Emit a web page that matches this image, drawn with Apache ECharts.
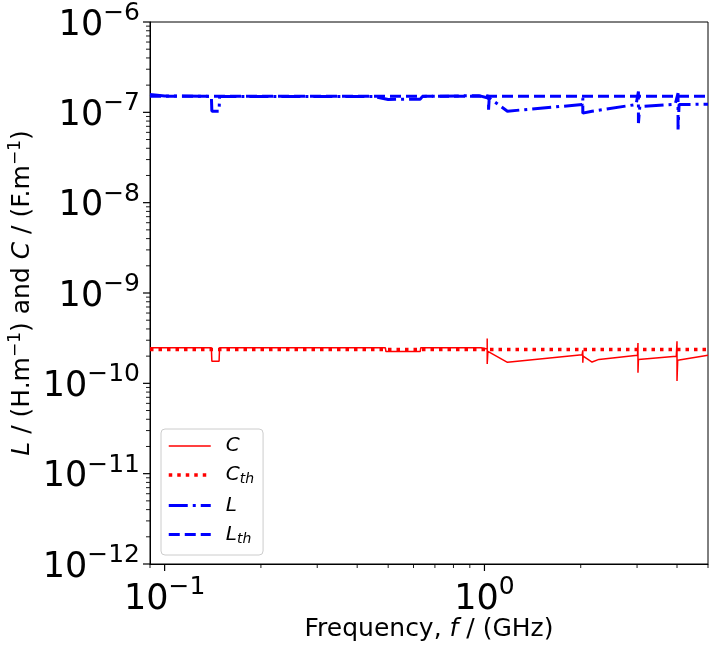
<!DOCTYPE html>
<html>
<head>
<meta charset="utf-8">
<script src="https://cdn.jsdelivr.net/npm/echarts@6/dist/echarts.min.js"></script>
<style>
  html, body { margin: 0; padding: 0; background: #fff; }
  #main { width: 715px; height: 652px; }
</style>
</head>
<body>
<div id="main"></div>
<script>
// 频率范围 (GHz)
var xMin = 0.09, xMax = 5;
var yMin = 1e-12, yMax = 1e-6;

// 刻度 (对数坐标的十进位)
var xDecades = [-2, -1, 0];
var yDecades = [-12, -11, -10, -9, -8, -7, -6];

// C : 电容 (F/m)  [频率, 值]
var cData = [
    [0.09, 2.47e-10], [0.14, 2.47e-10], [0.1405, 1.76e-10], [0.148, 1.76e-10],
    [0.1485, 2.47e-10], [0.49, 2.47e-10], [0.492, 2.25e-10], [0.63, 2.25e-10],
    [0.632, 2.47e-10], [0.975, 2.47e-10], [0.98, 2.4e-10], [1.02, 2.4e-10],
    [1.02, 3.13e-10], [1.02, 1.64e-10], [1.025, 2.26e-10], [1.18, 1.71e-10],
    [2.02, 2.07e-10], [2.03, 2.32e-10], [2.03, 1.69e-10], [2.035, 2.0e-10],
    [2.17, 1.72e-10], [2.28, 1.84e-10], [3.01, 2.05e-10], [3.02, 2.8e-10],
    [3.02, 1.31e-10], [3.03, 1.84e-10], [3.98, 2.0e-10], [4.0, 2.92e-10],
    [4.0, 1.06e-10], [4.02, 1.8e-10], [5.0, 2.05e-10]
];

// C_th : 理论电容
var cThData = [[0.09, 2.37e-10], [5.0, 2.37e-10]];

// L : 电感 (H/m)
var lData = [
    [0.09, 1.58e-7], [0.1, 1.52e-7], [0.14, 1.5e-7], [0.1405, 1.03e-7],
    [0.148, 1.03e-7], [0.1485, 1.5e-7], [0.45, 1.5e-7], [0.5, 1.39e-7],
    [0.63, 1.4e-7], [0.64, 1.5e-7], [0.96, 1.53e-7], [1.02, 1.45e-7],
    [1.03, 1.63e-7], [1.03, 1.07e-7], [1.035, 1.44e-7], [1.18, 1.03e-7],
    [2.02, 1.22e-7], [2.03, 1.44e-7], [2.03, 0.98e-7], [2.17, 1.03e-7],
    [2.98, 1.22e-7], [3.03, 1.7e-7], [3.03, 7.6e-8], [3.06, 1.16e-7],
    [3.95, 1.23e-7], [4.03, 1.63e-7], [4.03, 6.45e-8], [4.06, 1.22e-7],
    [5.0, 1.23e-7]
];

// L_th : 理论电感
var lThData = [[0.09, 1.51e-7], [5.0, 1.51e-7]];

var FONT = 'DejaVu Sans';
var legendNames = { 'C': '{i|C}', 'Cth': '{i|C}{sub|th}', 'L': '{i|L}', 'Lth': '{i|L}{sub|th}' };

function expLabel(v) {
    var e = Math.round(Math.log10(v));
    if (Math.abs(Math.log10(v) - e) > 1e-6) return '';
    return '{b|10}{s|' + (e < 0 ? '\u2212' + (-e) : e) + '}';
}

var labelRich = {
    b: { fontSize: 35, fontFamily: FONT, color: '#000', lineHeight: 42, verticalAlign: 'bottom' },
    s: { fontSize: 25, fontFamily: FONT, color: '#000', lineHeight: 25, verticalAlign: 'top' }
};

var myChart = echarts.init(document.getElementById('main'));

var option = {
    animation: false,
    grid: { left: 150, right: 7, top: 22, bottom: 88, outerBoundsMode: 'none',
            show: true, borderColor: '#000', borderWidth: 1 },
    xAxis: {
        type: 'log', logBase: 10, min: xMin, max: xMax,
        name: 'Frequency, {i|f} / (GHz)',
        nameLocation: 'middle', nameGap: 53, nameMoveOverlap: false,
        nameTextStyle: { fontSize: 25, fontFamily: FONT, color: '#000',
            rich: { i: { fontSize: 25, fontFamily: FONT, fontStyle: 'italic', color: '#000' } } },
        axisLine: { lineStyle: { color: '#000', width: 1 } },
        axisTick: { show: false },
        splitLine: { show: false },
        axisLabel: { margin: 11, formatter: expLabel, rich: labelRich }
    },
    yAxis: {
        type: 'log', logBase: 10, min: yMin, max: yMax,
        name: '{i|L} / (H.m{s|\u22121}) and {i|C} / (F.m{s|\u22121})',
        nameLocation: 'middle', nameGap: 113, nameRotate: 90, nameMoveOverlap: false,
        nameTextStyle: { fontSize: 25, fontFamily: FONT, color: '#000', lineHeight: 30,
            rich: {
                i: { fontSize: 25, fontFamily: FONT, fontStyle: 'italic', color: '#000', lineHeight: 30 },
                s: { fontSize: 17, fontFamily: FONT, color: '#000', lineHeight: 17, verticalAlign: 'top' }
            } },
        axisLine: { lineStyle: { color: '#000', width: 1 } },
        axisTick: { show: false },
        splitLine: { show: false },
        axisLabel: { margin: 10, formatter: expLabel, rich: labelRich }
    },
    legend: {
        orient: 'vertical', left: 161, top: 429,
        padding: [7, 9, 9, 6],
        itemWidth: 42, itemHeight: 14, itemGap: 9,
        backgroundColor: 'rgba(255,255,255,0.8)',
        borderColor: '#cccccc', borderWidth: 1, borderRadius: 4,
        itemStyle: { opacity: 0 },
        formatter: function (name) { return legendNames[name]; },
        textStyle: {
            padding: [0, 0, 0, 10],
            rich: {
                i: { fontSize: 20, fontFamily: FONT, fontStyle: 'italic', color: '#000', lineHeight: 23 },
                sub: { fontSize: 14, fontFamily: FONT, fontStyle: 'italic', color: '#000', lineHeight: 15, verticalAlign: 'bottom' }
            }
        },
        data: [
            { name: 'C', lineStyle: { width: 1.5 } },
            { name: 'Cth', lineStyle: { width: 3.5 } },
            { name: 'L', lineStyle: { width: 3 } },
            { name: 'Lth', lineStyle: { width: 3 } }
        ]
    },
    series: [
        { name: 'C', type: 'line', data: cData, symbol: 'none',
          lineStyle: { color: '#ff0000', width: 1.5 }, itemStyle: { color: '#ff0000' } },
        { name: 'Cth', type: 'line', data: cThData, symbol: 'none',
          lineStyle: { color: '#ff0000', width: 3.5, type: [3.5, 5] }, itemStyle: { color: '#ff0000' } },
        { name: 'L', type: 'line', data: lData, symbol: 'none',
          lineStyle: { color: '#0000ff', width: 3, type: [19, 5, 3, 5] }, itemStyle: { color: '#0000ff' } },
        { name: 'Lth', type: 'line', data: lThData, symbol: 'none',
          lineStyle: { color: '#0000ff', width: 3, type: [11, 5] }, itemStyle: { color: '#0000ff' } }
    ]
};

myChart.setOption(option);

// 刻度线 (主刻度 + 次刻度), 位置由坐标系换算
function drawTicks() {
    var els = [];
    var m, v, p, major;
    for (var i = 0; i < xDecades.length; i++) {
        for (m = 1; m <= 9; m++) {
            v = m * Math.pow(10, xDecades[i]);
            if (v < xMin - 1e-9 || v > xMax + 1e-9) continue;
            p = myChart.convertToPixel({ gridIndex: 0 }, [v, yMin]);
            major = (m === 1);
            els.push({ type: 'line', silent: true,
                shape: { x1: p[0], y1: p[1], x2: p[0], y2: p[1] + (major ? 7 : 4) },
                style: { stroke: '#000', lineWidth: major ? 1.2 : 0.9 } });
        }
    }
    for (var j = 0; j < yDecades.length; j++) {
        for (m = 1; m <= 9; m++) {
            v = m * Math.pow(10, yDecades[j]);
            if (v < yMin * 0.999 || v > yMax * 1.001) continue;
            p = myChart.convertToPixel({ gridIndex: 0 }, [xMin, v]);
            major = (m === 1);
            els.push({ type: 'line', silent: true,
                shape: { x1: p[0], y1: p[1], x2: p[0] - (major ? 7 : 4), y2: p[1] },
                style: { stroke: '#000', lineWidth: major ? 1.2 : 0.9 } });
        }
    }
    myChart.setOption({ graphic: { elements: els } });
}
drawTicks();
</script>
</body>
</html>
